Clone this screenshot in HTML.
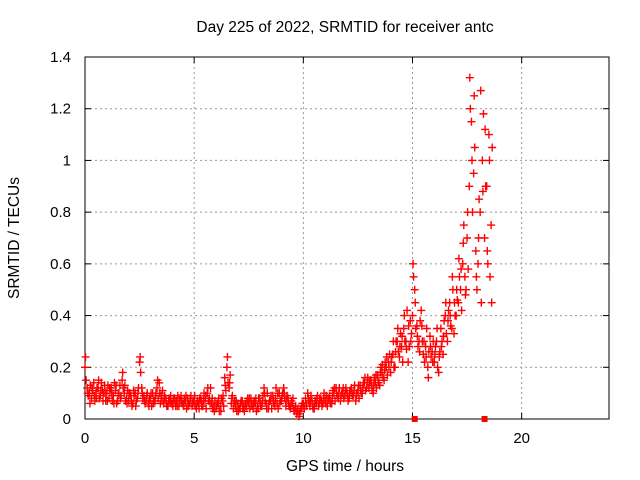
<!DOCTYPE html>
<html><head><meta charset="utf-8"><style>
body{margin:0;background:#fff}
svg{display:block;font-family:"Liberation Sans",sans-serif}
</style></head><body>
<svg id="chart" width="640" height="480">
<g id="grid"></g>
<rect x="85" y="57" width="524" height="362" fill="none" stroke="#000"/>
<g id="axes"></g>
<g id="marks"></g>
<text x="345" y="32" font-size="15.5" text-anchor="middle">Day 225 of 2022, SRMTID for receiver antc</text>
<text x="345" y="471" font-size="15.5" text-anchor="middle">GPS time / hours</text>
<text x="19" y="238" font-size="15.5" text-anchor="middle" transform="rotate(-90 19 238)">SRMTID / TECUs</text>
</svg>
<script>
const xTicks=[0,5,10,15,20];
const yTicks=[0,0.2,0.4,0.6,0.8,1,1.2,1.4];
const yTickLabels=["0","0.2","0.4","0.6","0.8","1","1.2","1.4"];
const startHour=0, stepHour=0.1;
const valsA=[0.2,0.12,0.1,0.08,0.14,0.1,0.12,0.09,0.11,0.13,
0.1,0.08,0.12,0.09,0.11,0.07,0.13,0.15,0.1,0.08,
0.07,0.09,0.06,0.1,0.08,0.22,0.12,0.09,0.07,0.06,
0.08,0.1,0.07,0.12,0.14,0.09,0.06,0.08,0.05,0.07,
0.06,0.08,0.07,0.05,0.09,0.06,0.07,0.08,0.06,0.05,
0.07,0.04,0.06,0.08,0.05,0.07,0.1,0.08,0.06,0.05,
0.04,0.06,0.05,0.07,0.16,0.2,0.12,0.06,0.04,0.05,
0.06,0.04,0.07,0.03,0.05,0.06,0.08,0.04,0.06,0.05,
0.08,0.05,0.12,0.06,0.04,0.07,0.09,0.05,0.06,0.1,
0.07,0.12,0.05,0.08,0.04,0.06,0.03,0.02,0.01,0.04,
0.06,0.08,0.1,0.05,0.07,0.04,0.06,0.05,0.08,0.06,
0.07,0.05,0.09,0.06,0.1,0.12,0.08,0.07,0.1,0.09,
0.1,0.08,0.12,0.09,0.07,0.11,0.13,0.1,0.14,0.12,
0.12,0.15,0.1,0.14,0.17,0.13,0.18,0.15,0.2,0.22,
0.18,0.25,0.2,0.3,0.24,0.28,0.35,0.3,0.22,0.38,
0.4,0.5,0.36,0.3,0.42,0.25,0.28,0.2,0.32,0.26,
0.22,0.3,0.18,0.35,0.25,0.4,0.3,0.45,0.35,0.33,
0.4,0.45,0.5,0.6,0.55,0.7,0.9,1.15,0.95,0.65,
0.6,0.8,1.0,0.7,0.9,1.1,0.75];
const valsB=[0.15,0.09,0.13,0.11,0.07,0.12,0.08,0.14,0.1,0.07,
0.13,0.11,0.07,0.14,0.06,0.1,0.09,0.12,0.07,0.11,
0.1,0.05,0.09,0.07,0.12,0.18,0.08,0.06,0.1,0.08,
0.05,0.07,0.1,0.08,0.06,0.11,0.09,0.05,0.08,0.06,
0.08,0.05,0.09,0.07,0.06,0.08,0.04,0.06,0.09,0.07,
0.05,0.07,0.08,0.05,0.1,0.04,0.07,0.12,0.04,0.07,
0.06,0.03,0.08,0.05,0.11,0.14,0.17,0.09,0.07,0.03,
0.04,0.07,0.05,0.06,0.08,0.04,0.06,0.07,0.03,0.08,
0.05,0.09,0.07,0.1,0.07,0.04,0.06,0.12,0.04,0.07,
0.1,0.08,0.09,0.05,0.07,0.04,0.05,0.04,0.03,0.06,
0.04,0.05,0.07,0.09,0.04,0.07,0.09,0.08,0.05,0.1,
0.09,0.08,0.06,0.11,0.07,0.09,0.12,0.1,0.08,0.12,
0.07,0.11,0.09,0.13,0.1,0.08,0.1,0.14,0.11,0.16,
0.15,0.11,0.16,0.12,0.14,0.2,0.16,0.22,0.17,0.25,
0.24,0.2,0.3,0.26,0.33,0.22,0.3,0.42,0.28,0.33,
0.55,0.35,0.28,0.38,0.3,0.22,0.35,0.26,0.24,0.3,
0.28,0.2,0.26,0.3,0.38,0.33,0.42,0.36,0.5,0.4,
0.46,0.55,0.42,0.75,0.5,0.58,1.2,0.8,1.05,0.5,
0.85,0.45,1.18,0.9,0.6,0.55,1.05];
const valsC=[0.24,0.1,0.06,0.12,0.09,0.08,0.15,0.11,0.07,0.1,
0.07,0.12,0.1,0.06,0.13,0.1,0.08,0.18,0.13,0.06,
0.1,0.07,0.11,0.05,0.1,0.24,0.1,0.07,0.09,0.05,
0.1,0.06,0.09,0.15,0.1,0.07,0.08,0.06,0.07,0.09,
0.05,0.07,0.05,0.08,0.07,0.05,0.09,0.05,0.08,0.06,
0.09,0.06,0.04,0.07,0.07,0.09,0.12,0.06,0.08,0.03,
0.05,0.08,0.03,0.09,0.13,0.24,0.14,0.08,0.06,0.07,
0.03,0.06,0.04,0.05,0.07,0.08,0.05,0.06,0.08,0.04,
0.06,0.07,0.1,0.04,0.06,0.09,0.07,0.08,0.1,0.06,
0.09,0.1,0.07,0.06,0.05,0.08,0.04,0.03,0.02,0.05,
0.05,0.06,0.08,0.07,0.05,0.06,0.08,0.06,0.07,0.08,
0.06,0.08,0.07,0.08,0.12,0.1,0.1,0.09,0.12,0.11,
0.09,0.1,0.1,0.11,0.09,0.13,0.11,0.12,0.16,0.14,
0.14,0.13,0.13,0.17,0.15,0.18,0.21,0.19,0.24,0.2,
0.22,0.3,0.26,0.35,0.28,0.32,0.4,0.27,0.36,0.3,
0.6,0.45,0.32,0.26,0.36,0.3,0.24,0.16,0.28,0.22,
0.25,0.35,0.24,0.28,0.32,0.45,0.38,0.4,0.55,0.45,
0.5,0.62,0.58,0.68,0.48,0.8,1.32,1.0,1.25,0.55,
0.7,1.27,0.88,1.12,0.65,1.0,0.45];
const zeroHours=[15.1,18.3];
const zeroVals=[0,0];
const X=h=>85+h*524/24, Y=v=>419-v*362/1.4;
const ns="http://www.w3.org/2000/svg";
const grid=document.getElementById('grid'),axes=document.getElementById('axes'),marks=document.getElementById('marks');
function mk(tag,attrs,parent){const e=document.createElementNS(ns,tag);for(const k in attrs)e.setAttribute(k,attrs[k]);parent.appendChild(e);return e;}
xTicks.forEach(t=>{
 if(t>0){const g=mk('line',{x1:X(t),x2:X(t),y1:57,y2:419,stroke:'#999','stroke-dasharray':'2,3'},grid);
 
 }
 mk('line',{x1:X(t),x2:X(t),y1:419,y2:413,stroke:'#000'},axes);
 mk('line',{x1:X(t),x2:X(t),y1:57,y2:63,stroke:'#000'},axes);
 const l=mk('text',{x:X(t),y:443,'font-size':15,'text-anchor':'middle'},axes);l.textContent=t;
 
 
});
yTicks.forEach((t,i)=>{
 if(t>0&&t<1.4){const g=mk('line',{x1:85,x2:609,y1:Y(t),y2:Y(t),stroke:'#999','stroke-dasharray':'2,3'},grid);
 
 }
 mk('line',{x1:85,x2:91,y1:Y(t),y2:Y(t),stroke:'#000'},axes);
 mk('line',{x1:609,x2:603,y1:Y(t),y2:Y(t),stroke:'#000'},axes);
 const l=mk('text',{x:71,y:Y(t)+5,'font-size':15,'text-anchor':'end'},axes);l.textContent=yTickLabels[i];
 
 
});
function plus(x,y){const p=mk('path',{d:`M${x-4} ${y}h8M${x} ${y-4}v8`,stroke:'#f00','stroke-width':1.4,fill:'none'},marks);
 
 }
valsA.forEach((v,i)=>plus(X(startHour+i*stepHour),Y(v)));
valsB.forEach((v,i)=>plus(X(startHour+i*stepHour+0.05),Y(v)));
valsC.forEach((v,i)=>plus(X(startHour+i*stepHour+0.025),Y(v)));
zeroHours.forEach((h,i)=>{const r=mk('rect',{x:X(h)-3,y:Y(zeroVals[i])-3,width:6,height:6,fill:'#f00'},marks);
 
 });
</script>
</body></html>
